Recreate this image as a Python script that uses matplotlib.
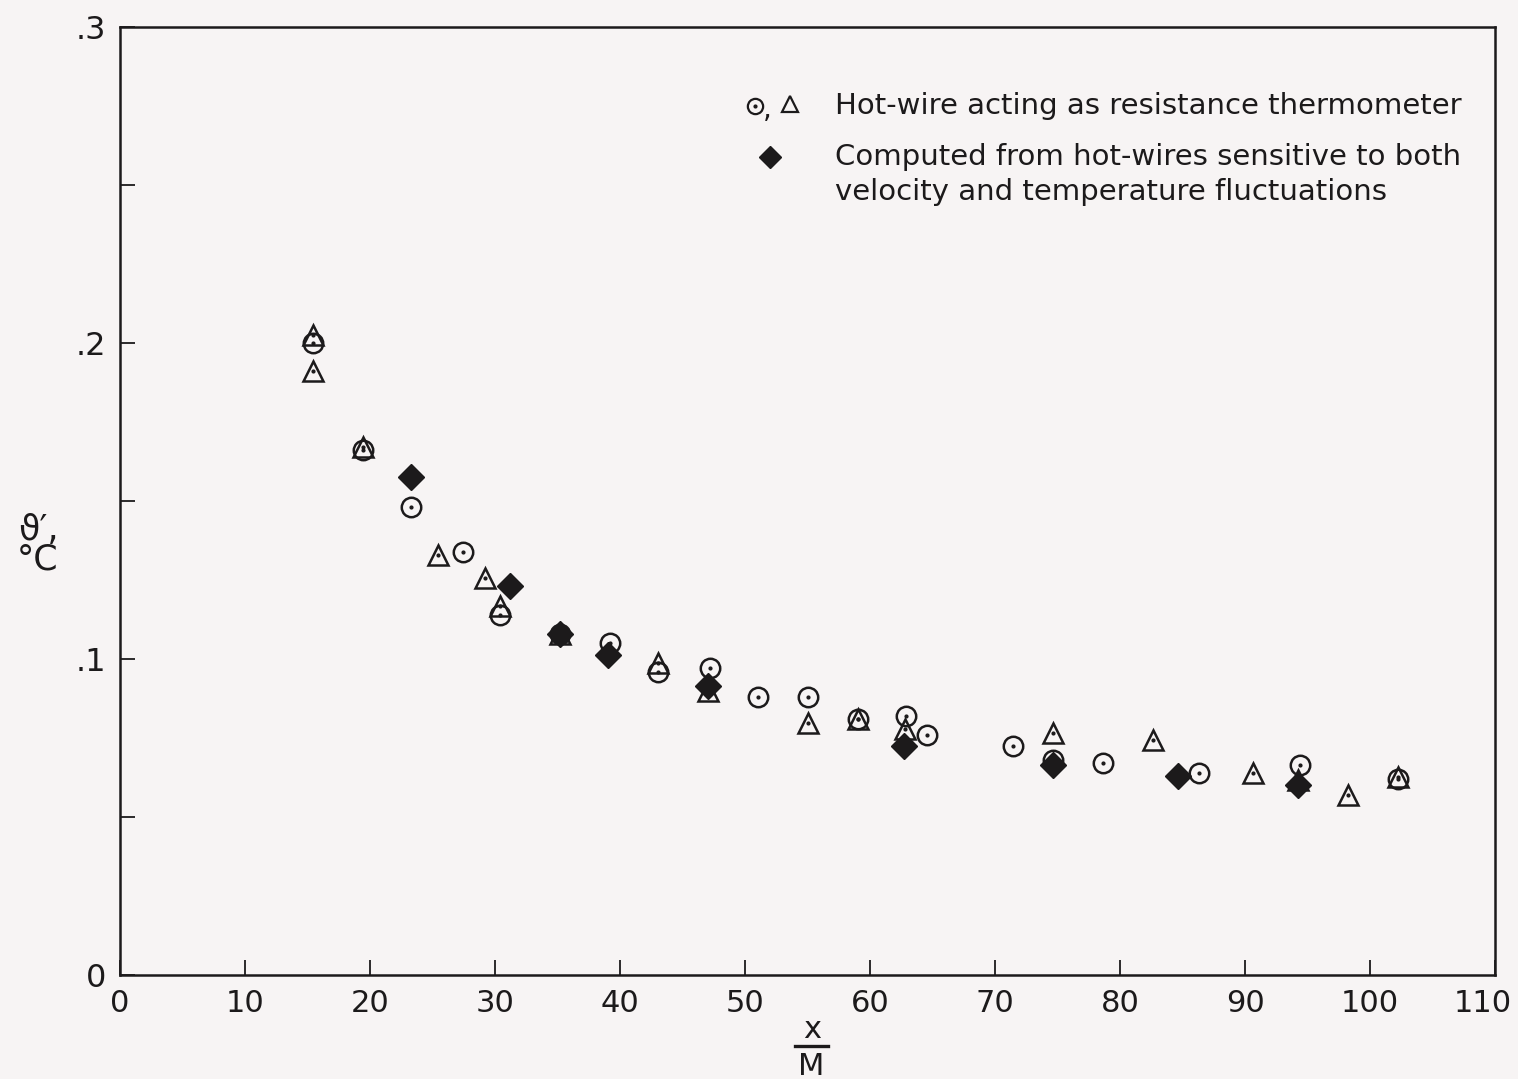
import matplotlib
matplotlib.use("Agg")
import matplotlib.pyplot as plt
import matplotlib.transforms as mtransforms
from matplotlib.ticker import MultipleLocator, FixedLocator

# hot-wire as resistance thermometer, circles
circ_x = [15.4, 19.4, 23.3, 27.4, 30.4, 35.2, 39.2, 43.0, 47.2, 51.0,
          55.0, 59.0, 62.9, 64.6, 71.4, 74.6, 78.6, 86.3, 94.4, 102.2]
circ_y = [0.200, 0.166, 0.148, 0.134, 0.114, 0.108, 0.105, 0.096, 0.097, 0.088,
          0.088, 0.081, 0.082, 0.076, 0.0725, 0.068, 0.067, 0.064, 0.0665, 0.062]

# hot-wire as resistance thermometer, triangles
tri_x = [15.4, 15.4, 19.4, 25.4, 29.2, 30.4, 35.2, 43.0, 47.0, 55.0,
         59.0, 62.8, 74.6, 82.6, 90.6, 94.2, 98.2, 102.2]
tri_y = [0.2025, 0.191, 0.167, 0.133, 0.1255, 0.1167, 0.108, 0.0986, 0.090, 0.0797,
         0.081, 0.0778, 0.0767, 0.0745, 0.0638, 0.0617, 0.0571, 0.0627]

# computed from velocity/temperature-sensitive wires, diamonds
dia_x = [23.3, 31.2, 35.2, 39.0, 47.0, 62.7, 74.6, 84.6, 94.2]
dia_y = [0.1576, 0.1231, 0.1078, 0.1013, 0.0915, 0.0725, 0.0666, 0.0629, 0.0601]

x_ticks = [0, 10, 20, 30, 40, 50, 60, 70, 80, 90, 100, 110]
y_ticks = [0, 0.1, 0.2, 0.3]
y_tick_labels = ["0", ".1", ".2", ".3"]

ink = "#1c1a1b"
paper = "#f7f4f4"

fig = plt.figure(figsize=(15.18, 10.79), dpi=100, facecolor=paper)
ax = fig.add_axes([120 / 1518, 1 - 975 / 1079, 1375 / 1518, 948 / 1079])
ax.set_facecolor(paper)

ax.plot(dia_x, dia_y, linestyle="none", marker="D", markersize=13,
        color=ink, zorder=3)
ax.plot(circ_x, circ_y, linestyle="none", marker="o", markersize=14,
        markerfacecolor="none", markeredgecolor=ink, markeredgewidth=1.8, zorder=4)
ax.plot(tri_x, tri_y, linestyle="none", marker="^", markersize=14,
        markerfacecolor="none", markeredgecolor=ink, markeredgewidth=1.8, zorder=4)
# centre dots
ax.plot(circ_x + tri_x, circ_y + tri_y, linestyle="none", marker="o",
        markersize=2, color=ink, zorder=5)

ax.set_xlim(0, 110)
ax.set_ylim(0, 0.3)
ax.xaxis.set_major_locator(FixedLocator(x_ticks))
ax.set_xticklabels([str(v) for v in x_ticks])
ax.yaxis.set_major_locator(FixedLocator(y_ticks))
ax.yaxis.set_minor_locator(MultipleLocator(0.05))
ax.set_yticklabels(y_tick_labels)

for s in ax.spines.values():
    s.set_linewidth(1.8)
    s.set_color(ink)
ax.tick_params(which="both", direction="in", length=11, width=1.3,
               colors=ink, top=False, right=False)
ax.tick_params(axis="x", labelsize=22, pad=10)
ax.tick_params(axis="y", labelsize=23, pad=10)

# keep the last x label inside the picture
last = ax.get_xticklabels()[-1]
last.set_transform(last.get_transform()
                   + mtransforms.ScaledTranslation(-0.12, 0, fig.dpi_scale_trans))

# x label as fraction x / M
ax.text(0.503, -0.057, "x", transform=ax.transAxes, fontsize=22,
        ha="center", va="center", color=ink)
ax.plot([0.491, 0.515], [-0.075, -0.075], transform=ax.transAxes,
        color=ink, linewidth=2.4, clip_on=False)
ax.text(0.503, -0.096, "M", transform=ax.transAxes, fontsize=22,
        ha="center", va="center", color=ink)

# y label
fig.text(38 / 1518, 1 - 545 / 1079, "\u03d1\u2032,\n\u00b0C", fontsize=25,
         ha="center", va="center", color=ink, linespacing=0.85)

# legend
ax.plot([0.462], [0.917], transform=ax.transAxes, marker="o", markersize=11,
        markerfacecolor="none", markeredgecolor=ink, markeredgewidth=1.6)
ax.plot([0.462], [0.917], transform=ax.transAxes, marker="o", markersize=2, color=ink)
ax.text(0.471, 0.912, ",", transform=ax.transAxes, fontsize=20,
        ha="center", va="center", color=ink)
ax.plot([0.487], [0.919], transform=ax.transAxes, marker="^", markersize=11,
        markerfacecolor="none", markeredgecolor=ink, markeredgewidth=1.6)
ax.plot([0.473], [0.863], transform=ax.transAxes, marker="D", markersize=11,
        color=ink)
ax.text(0.520, 0.917, "Hot-wire acting as resistance thermometer",
        transform=ax.transAxes, fontsize=21, ha="left", va="center", color=ink)
ax.text(0.520, 0.863, "Computed from hot-wires sensitive to both",
        transform=ax.transAxes, fontsize=21, ha="left", va="center", color=ink)
ax.text(0.520, 0.826, "velocity and temperature fluctuations",
        transform=ax.transAxes, fontsize=21, ha="left", va="center", color=ink)

fig.savefig("out.png", dpi=100, facecolor=paper)
